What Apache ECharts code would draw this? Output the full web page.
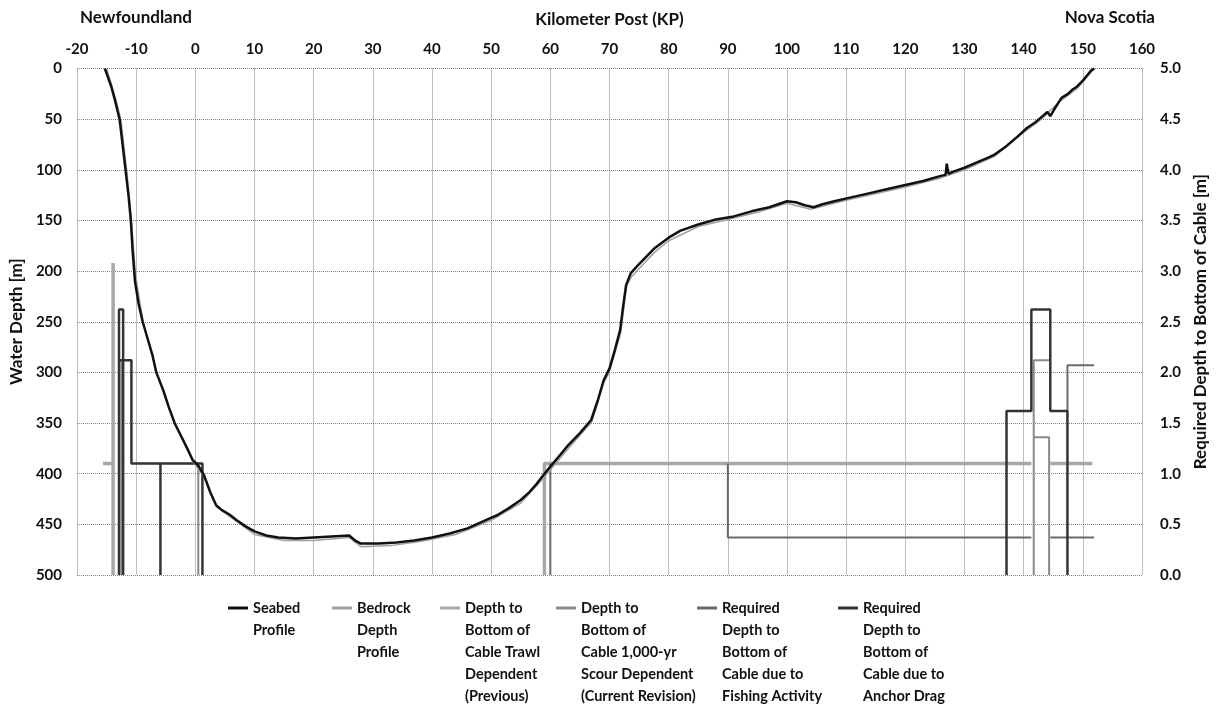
<!DOCTYPE html>
<html><head><meta charset="utf-8">
<script src="https://cdn.jsdelivr.net/npm/echarts@6/dist/echarts.min.js"></script>
<style>html,body{margin:0;padding:0;background:#fff}#chart{width:1217px;height:709px}</style>
</head><body><div id="chart"></div>
<script>
// ---- data (KP, value) ----
const seabedProfile = [[-15.3,0],[-14.8,8],[-14.2,18],[-13.6,31],[-13.1,43],[-12.8,50],[-12.3,75],[-11.8,100],[-11.3,125],[-10.9,150],[-10.6,180],[-10.2,210],[-9.6,232],[-8.9,250],[-8.0,268],[-7.2,284],[-6.6,300],[-5.4,318],[-4.5,334],[-3.5,350],[-2.3,364],[-1.2,377],[-0.5,386],[0.5,392],[1.5,402],[2.5,418],[3.5,431],[4.5,436],[5.7,440],[7,446],[8.5,452],[10,457],[12,461],[14,463],[17,464],[20,463],[23,462],[26,461],[27,466],[28,469],[31,469],[34,468],[37,466],[40,463],[43,459],[46,454],[49,446],[51,441],[53,434],[55,426],[56.5,418],[57.7,410],[58.6,403],[60,393],[61.3,384],[63,372],[65,360],[66.9,347],[68,328],[69,308],[70,296],[70.9,278],[71.8,258],[72.3,235],[72.8,214],[73.6,202],[75,193],[77.5,178],[80,167],[82,160],[85,154],[88,149],[91,146],[94,141],[97,137],[99,133],[100,131],[101.5,132],[103,135],[104.5,137],[106,134],[108,131],[111,127],[114,123],[117,119],[120,115],[123,111],[126,106],[126.8,105],[127,94],[127.3,104],[128,102],[130,98],[132,93],[134,88],[135.1,85],[137,77],[139,67],[140.5,59],[142,53],[143,48],[144,43],[144.5,47],[145.2,40],[146.4,29],[147.5,25],[148.2,21],[149,18],[150,12],[151.4,2],[151.9,0]];
const bedrockProfile = [[-15.0,0],[-13.4,31],[-12.6,50],[-11.6,100],[-10.8,150],[-10.1,205],[-8.8,251],[-6.5,301],[-3.4,352],[-0.4,388],[1.6,404],[3.6,433],[6,443],[10,460],[15,466],[20,466],[26,463],[28,472],[33,471],[38,467],[44,460],[50,446],[55,429],[58.6,406],[61.3,387],[65,362],[67,349],[69,311],[70,299],[71.9,261],[72.9,214],[73.8,205],[77.5,182],[80,170],[85,156],[90,149],[95,142],[100,133],[104,139],[110,130],[120,117],[126,108],[130,100],[135,87],[140,63],[143,50],[146,33],[149,20],[151.5,3],[152.1,0]];
// step lines on the right axis (required cover, m); null = gap
const trawlPrevious = [[-15.6,1.1],[-14.2,1.1],null,[-13.9,0],[-13.9,3.08],null,[59.0,0],[59.0,1.1],[141.3,1.1],null,[144.5,1.1],[151.6,1.1]];
const scourCurrent = [[-12.5,0],[-12.5,2.12],null,[-1.0,1.1],[0.5,1.1],[0.5,0],null,[141.7,0],[141.7,2.12],[144.3,2.12],null,[141.7,1.36],[144.3,1.36],[144.3,0]];
const fishingActivity = [[60.0,0],[60.0,1.1],null,[90,1.1],[90,0.37],[141.3,0.37],null,[144.5,0.37],[151.9,0.37],null,[147.4,1.62],[147.4,2.07],[151.9,2.07]];
const anchorDrag = [[-12.9,0],[-12.9,2.62],[-12.2,2.62],[-12.2,0],null,[-12.9,2.12],[-10.8,2.12],[-10.8,1.1],[1.2,1.1],[1.2,0],null,[-5.9,1.1],[-5.9,0],null,[137.1,0],[137.1,1.62],[141.3,1.62],[141.3,2.62],[144.5,2.62],[144.5,1.62],[147.4,1.62],[147.4,0]];

const seriesNames = [
  'Seabed\nProfile',
  'Bedrock\nDepth\nProfile',
  'Depth to\nBottom of\nCable Trawl\nDependent\n(Previous)',
  'Depth to\nBottom of\nCable 1,000-yr\nScour Dependent\n(Current Revision)',
  'Required\nDepth to\nBottom of\nCable due to\nFishing Activity',
  'Required\nDepth to\nBottom of\nCable due to\nAnchor Drag'
];
const topLabels = { left: 'Newfoundland', right: 'Nova Scotia', axis: 'Kilometer Post (KP)' };

// ---- chart ----
const FONT = 'Lato, "Open Sans", sans-serif';
const LH = 22;
const gap = d => d.map(p => p === null ? ['-','-'] : p);
const chart = echarts.init(document.getElementById('chart'), null, {renderer:'canvas'});
const gridLine = {show:true, lineStyle:{color:'#808080', type:'dotted', width:1}};
const labelStyle = {color:'#111', fontFamily:FONT, fontWeight:'bold', fontSize:15};
const nameStyle = {color:'#111', fontFamily:FONT, fontWeight:'bold', fontSize:17};
const legendWidths = [79, 83, 91, 116, 116, 120];
const legendColors = ['#111111','#a0a0a0','#a8a8a8','#8a8a8a','#6a6a6a','#333333'];

function line(name, data, color, width, yIdx, z) {
  return {name, type:'line', data:gap(data), yAxisIndex:yIdx, symbol:'none', showSymbol:false,
    connectNulls:false, animation:false, z, lineStyle:{color, width}, itemStyle:{color}};
}

chart.setOption({
  backgroundColor:'#fff',
  animation:false,
  grid:{left:77, right:67, top:68.5, bottom:134, containLabel:false},
  xAxis:{type:'value', position:'top', min:-20, max:160, interval:10,
    name:topLabels.axis, nameLocation:'middle', nameGap:40, nameTextStyle:nameStyle,
    axisLine:{show:false}, axisTick:{show:false},
    axisLabel:Object.assign({margin:12}, labelStyle),
    splitLine:gridLine},
  yAxis:[
    {type:'value', inverse:true, min:0, max:500, interval:50,
     name:'Water Depth [m]', nameLocation:'middle', nameGap:48, nameTextStyle:nameStyle,
     axisLine:{show:false}, axisTick:{show:false},
     axisLabel:Object.assign({margin:15}, labelStyle), splitLine:gridLine},
    {type:'value', min:0, max:5, interval:0.5, position:'right',
     name:'Required Depth to Bottom of Cable [m]', nameLocation:'middle', nameGap:50, nameTextStyle:nameStyle,
     axisLine:{show:false}, axisTick:{show:false},
     axisLabel:Object.assign({margin:18, formatter:v => v.toFixed(1)}, labelStyle), splitLine:{show:false}}
  ],
  legend:{
    orient:'horizontal', left:228, top:608 - 4.5*LH, padding:0, itemGap:0,
    itemWidth:20, itemHeight:3, icon:'rect',
    formatter: n => ' \n'.repeat(n.split('\n').length - 1) + n,
    textStyle:{color:'#111', fontFamily:FONT, fontWeight:'bold', fontSize:14.5, lineHeight:LH},
    data: seriesNames.map((n, i) => ({name:n, itemStyle:{color:legendColors[i]}, textStyle:{width:legendWidths[i]}}))
  },
  graphic:[
    {type:'text', left:80, top:9, style:{text:topLabels.left, fill:'#111', font:'bold 17px ' + FONT}},
    {type:'text', right:62, top:9, style:{text:topLabels.right, fill:'#111', font:'bold 17px ' + FONT}}
  ],
  series:[
    line(seriesNames[0], seabedProfile, '#111111', 2.5, 0, 7),
    line(seriesNames[1], bedrockProfile, '#a0a0a0', 1.5, 0, 6),
    line(seriesNames[2], trawlPrevious, '#a8a8a8', 3.5, 1, 2),
    line(seriesNames[3], scourCurrent, '#8a8a8a', 2, 1, 3),
    line(seriesNames[4], fishingActivity, '#6a6a6a', 2, 1, 4),
    line(seriesNames[5], anchorDrag, '#333333', 2.5, 1, 5)
  ]
});
</script></body></html>
